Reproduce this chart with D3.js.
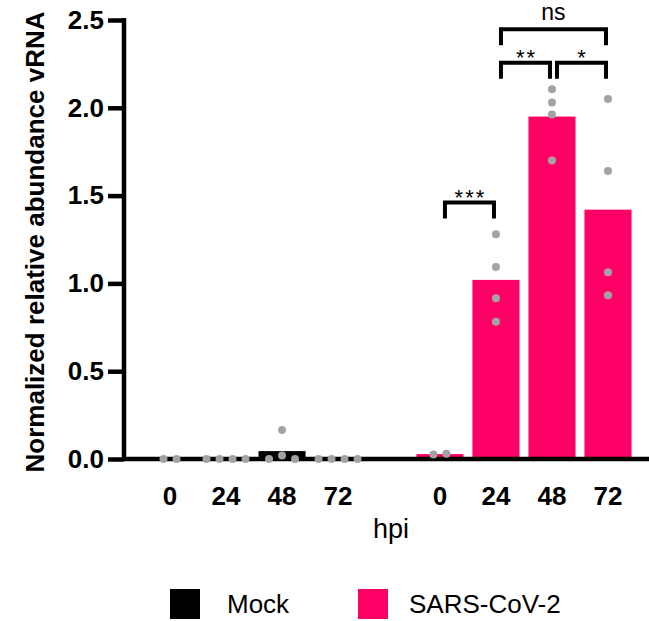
<!DOCTYPE html>
<html>
<head>
<meta charset="utf-8">
<script src="https://cdn.jsdelivr.net/npm/d3@7"></script>
<style>
  body { margin: 0; background: #fff; }
  svg { font-family: "Liberation Sans", Arial, sans-serif; }
</style>
</head>
<body>
<svg id="root" width="649" height="621"></svg>
<script>
const width = 649
const height = 621

// groups and time points
const groups = ['Mock', 'SARS-CoV-2']
const hpi = ['0', '24', '48', '72']
const colors = ['#000000', '#ff0066']

// bar means per group
const mockMeans = [0, 0, 0.045, 0]
const sarsMeans = [0.028, 1.02, 1.95, 1.42]

// replicate points per time point
const mockPoints = [
  [0, 0],
  [0, 0, 0, 0],
  [0, 0.02, 0, 0.165],
  [0, 0, 0, 0]
]
const sarsPoints = [
  [0.025, 0.03],
  [1.28, 1.094, 0.915, 0.782],
  [2.106, 2.03, 1.962, 1.70],
  [2.05, 1.64, 1.063, 0.932]
]

// significance brackets (SARS-CoV-2 group): from hpi, to hpi, level, label
const sigFrom = ['0', '24', '48', '24']
const sigTo = ['24', '48', '72', '72']
const sigLevel = [1.461, 2.256, 2.256, 2.447]
const sigLabel = ['***', '**', '*', 'ns']

const yTicks = [0, 0.5, 1, 1.5, 2, 2.5]

const svg = d3.select('#root')

// scales
const x0 = d3.scaleBand()
  .domain(groups)
  .range([142, 636])
  .paddingInner(0.17)
  .paddingOuter(0)

const x1 = d3.scaleBand()
  .domain(hpi)
  .range([0, x0.bandwidth()])
  .paddingInner(0.16)
  .paddingOuter(0.08)

const y = d3.scaleLinear()
  .domain([0, 2.5])
  .range([459, 20])

const cx = (g, h) => x0(g) + x1(h) + x1.bandwidth() / 2

// flatten bars
const bars = []
groups.forEach((g, gi) => {
  const means = gi === 0 ? mockMeans : sarsMeans
  const pts = gi === 0 ? mockPoints : sarsPoints
  hpi.forEach((h, hi) => {
    bars.push({ g, gi, h, value: means[hi], points: pts[hi] })
  })
})

// bars
svg.append('g')
  .selectAll('rect.bar')
  .data(bars)
  .enter()
  .append('rect')
  .attr('class', 'bar')
  .attr('x', d => x0(d.g) + x1(d.h))
  .attr('y', d => y(d.value))
  .attr('width', x1.bandwidth())
  .attr('height', d => y(0) - y(d.value))
  .attr('fill', d => colors[d.gi])

// axes
const yAxis = d3.axisLeft(y)
  .tickValues(yTicks)
  .tickFormat(d3.format('.1f'))
  .tickSize(16)
  .tickPadding(4)

const yg = svg.append('g')
  .attr('transform', 'translate(124,0)')
  .call(yAxis)
yg.select('.domain').attr('stroke-width', 4.5).attr('d', `M0,${y(2.5) - 2}V${y(0) + 2}`)
yg.selectAll('.tick line').attr('stroke-width', 4.5)
yg.selectAll('.tick text')
  .attr('font-size', 26)
  .attr('font-weight', 'bold')
  .attr('fill', '#000')
  .attr('font-family', '"Liberation Sans", Arial, sans-serif')

// x baseline
svg.append('line')
  .attr('x1', 122)
  .attr('x2', width)
  .attr('y1', y(0))
  .attr('y2', y(0))
  .attr('stroke', '#000')
  .attr('stroke-width', 4.5)

// x tick labels
svg.append('g')
  .selectAll('text.xtick')
  .data(bars)
  .enter()
  .append('text')
  .attr('class', 'xtick')
  .attr('x', d => cx(d.g, d.h))
  .attr('y', 505)
  .attr('text-anchor', 'middle')
  .attr('font-size', 26)
  .attr('font-weight', 'bold')
  .text(d => d.h)

// points: rows of dots at similar heights are spread sideways
const dotR = 4
const dotStep = 13
const dots = []
bars.forEach(b => {
  const rows = []
  b.points.forEach(v => {
    const row = rows.find(r => Math.abs(y(r[0]) - y(v)) < dotR * 2)
    if (row) row.push(v)
    else rows.push([v])
  })
  rows.forEach(r => {
    r.forEach((v, i) => {
      dots.push({ x: cx(b.g, b.h) + (i - (r.length - 1) / 2) * dotStep, v })
    })
  })
})

svg.append('g')
  .selectAll('circle.dot')
  .data(dots)
  .enter()
  .append('circle')
  .attr('class', 'dot')
  .attr('cx', d => d.x)
  .attr('cy', d => y(d.v))
  .attr('r', dotR)
  .attr('fill', '#a3a3a3')

// significance brackets
const sig = sigLabel.map((l, i) => ({
  x1: cx('SARS-CoV-2', sigFrom[i]) + 5,
  x2: cx('SARS-CoV-2', sigTo[i]) - 2,
  yv: sigLevel[i],
  label: l
}))

const sg = svg.append('g')
sg.selectAll('path.bracket')
  .data(sig)
  .enter()
  .append('path')
  .attr('class', 'bracket')
  .attr('d', d => `M${d.x1},${y(d.yv) + 16}V${y(d.yv)}H${d.x2}V${y(d.yv) + 16}`)
  .attr('fill', 'none')
  .attr('stroke', '#000')
  .attr('stroke-width', 4)

sg.selectAll('text.sig')
  .data(sig)
  .enter()
  .append('text')
  .attr('class', 'sig')
  .attr('x', d => (d.x1 + d.x2) / 2 + (d.label === 'ns' ? 0 : 1))
  .attr('y', d => d.label === 'ns' ? y(d.yv) - 9 : y(d.yv) + 2.5)
  .attr('text-anchor', 'middle')
  .attr('font-size', d => d.label === 'ns' ? 23 : 22)
  .attr('letter-spacing', d => d.label === 'ns' ? 0 : 2)
  .text(d => d.label)

// y axis title
svg.append('text')
  .attr('transform', 'translate(44,242)rotate(-90)')
  .attr('text-anchor', 'middle')
  .attr('font-size', 26)
  .attr('font-weight', 'bold')
  .text('Normalized relative abundance vRNA')

// x axis title
svg.append('text')
  .attr('x', 391)
  .attr('y', 538)
  .attr('text-anchor', 'middle')
  .attr('font-size', 27)
  .text('hpi')

// legend
const legendX = [170, 358]
const legend = svg.append('g')
  .selectAll('g.legend')
  .data(groups)
  .enter()
  .append('g')
  .attr('class', 'legend')
  .attr('transform', (d, i) => `translate(${legendX[i]},589)`)

legend.append('rect')
  .attr('width', 30)
  .attr('height', 30)
  .attr('fill', (d, i) => colors[i])

legend.append('text')
  .attr('x', (d, i) => i === 0 ? 57 : 51)
  .attr('y', 24)
  .attr('font-size', 26)
  .text(d => d)
</script>
</body>
</html>
